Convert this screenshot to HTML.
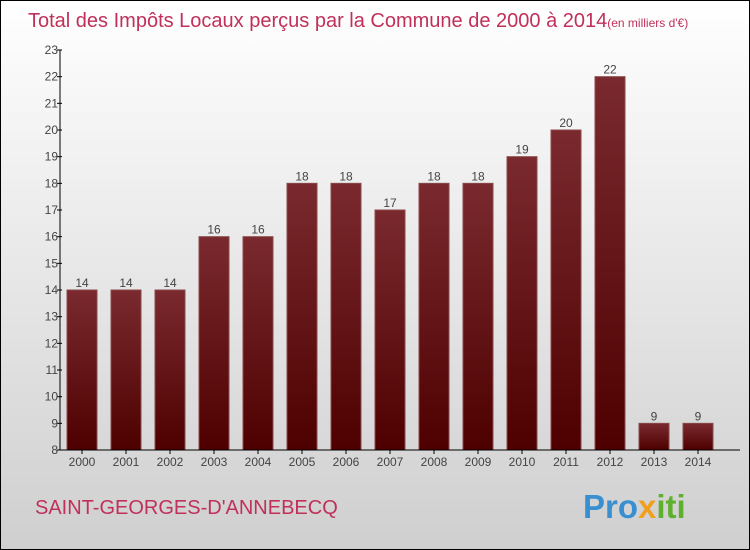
<!DOCTYPE html>
<html><head><meta charset="utf-8"><style>
body{margin:0;width:750px;height:550px;overflow:hidden}
svg{display:block}
text{font-family:"Liberation Sans",sans-serif}
</style></head><body>
<svg width="750" height="550">
<defs>
<linearGradient id="bg" x1="0" y1="0" x2="0" y2="1"><stop offset="0" stop-color="#ffffff"/><stop offset="1" stop-color="#cfcfcf"/></linearGradient>
<linearGradient id="bar" x1="0" y1="0" x2="0" y2="1"><stop offset="0" stop-color="#7a2a2e"/><stop offset="1" stop-color="#4e0000"/></linearGradient>
</defs>
<rect x="0.5" y="0.5" width="749" height="549" fill="url(#bg)" stroke="#000"/>
<text x="28" y="27" font-size="20" fill="#c0305a">Total des Impôts Locaux perçus par la Commune de 2000 à 2014<tspan font-size="12">(en milliers d'€)</tspan></text>
<g id="plot"></g>
<text x="35" y="514" font-size="20" fill="#c0305a">SAINT-GEORGES-D'ANNEBECQ</text>
<text x="583" y="518" font-size="33" font-weight="bold" fill="#3a8fd0">Pro<tspan fill="#f0a020">x</tspan><tspan fill="#60b030">iti</tspan></text>
</svg>
<script>
const categories=["2000","2001","2002","2003","2004","2005","2006","2007","2008","2009","2010","2011","2012","2013","2014"];
const values=[14,14,14,16,16,18,18,17,18,18,19,20,22,9,9];
const yTicks=[8,9,10,11,12,13,14,15,16,17,18,19,20,21,22,23];
const NS="http://www.w3.org/2000/svg";
const plotG=document.getElementById('plot');
const yMin=8,yMax=23,plotTop=50,plotBot=450,plotLeft=60,plotRight=740;
const yScale=v=>plotBot-(v-yMin)/(yMax-yMin)*(plotBot-plotTop);
const step=44,bw=30,x0=67;
const xScale=i=>x0+i*step;
function el(t,a){const e=document.createElementNS(NS,t);for(const k in a)e.setAttribute(k,a[k]);plotG.appendChild(e);return e;}
values.forEach((v,i)=>{
 const r=el('rect',{x:xScale(i),y:yScale(v),width:bw,height:plotBot-yScale(v),fill:'url(#bar)',stroke:'#8a4a4c','stroke-width':1});
 
 
 const t=el('text',{x:xScale(i)+bw/2,y:yScale(v)-3,'text-anchor':'middle','font-size':12,fill:'#444'});
 t.textContent=v;
 
 
 const c=el('text',{x:xScale(i)+bw/2,y:plotBot+16,'text-anchor':'middle','font-size':12,fill:'#444'});
 c.textContent=categories[i];
 
 
 const tk=el('line',{x1:xScale(i)+bw/2,x2:xScale(i)+bw/2,y1:plotBot,y2:plotBot+4,stroke:'#000'});
 
 
});
yTicks.forEach(v=>{
 const l=el('line',{x1:plotLeft-3,x2:plotLeft+2,y1:yScale(v),y2:yScale(v),stroke:'#000'});
 
 
 const t=el('text',{x:plotLeft-2,y:yScale(v)+4,'text-anchor':'end','font-size':12,fill:'#444'});
 t.textContent=v;
 
 
});
const ya=el('line',{x1:plotLeft,x2:plotLeft,y1:plotTop,y2:plotBot,stroke:'#000'});


const xa=el('line',{x1:plotLeft,x2:plotRight,y1:plotBot,y2:plotBot,stroke:'#000'});


</script>
</body></html>
